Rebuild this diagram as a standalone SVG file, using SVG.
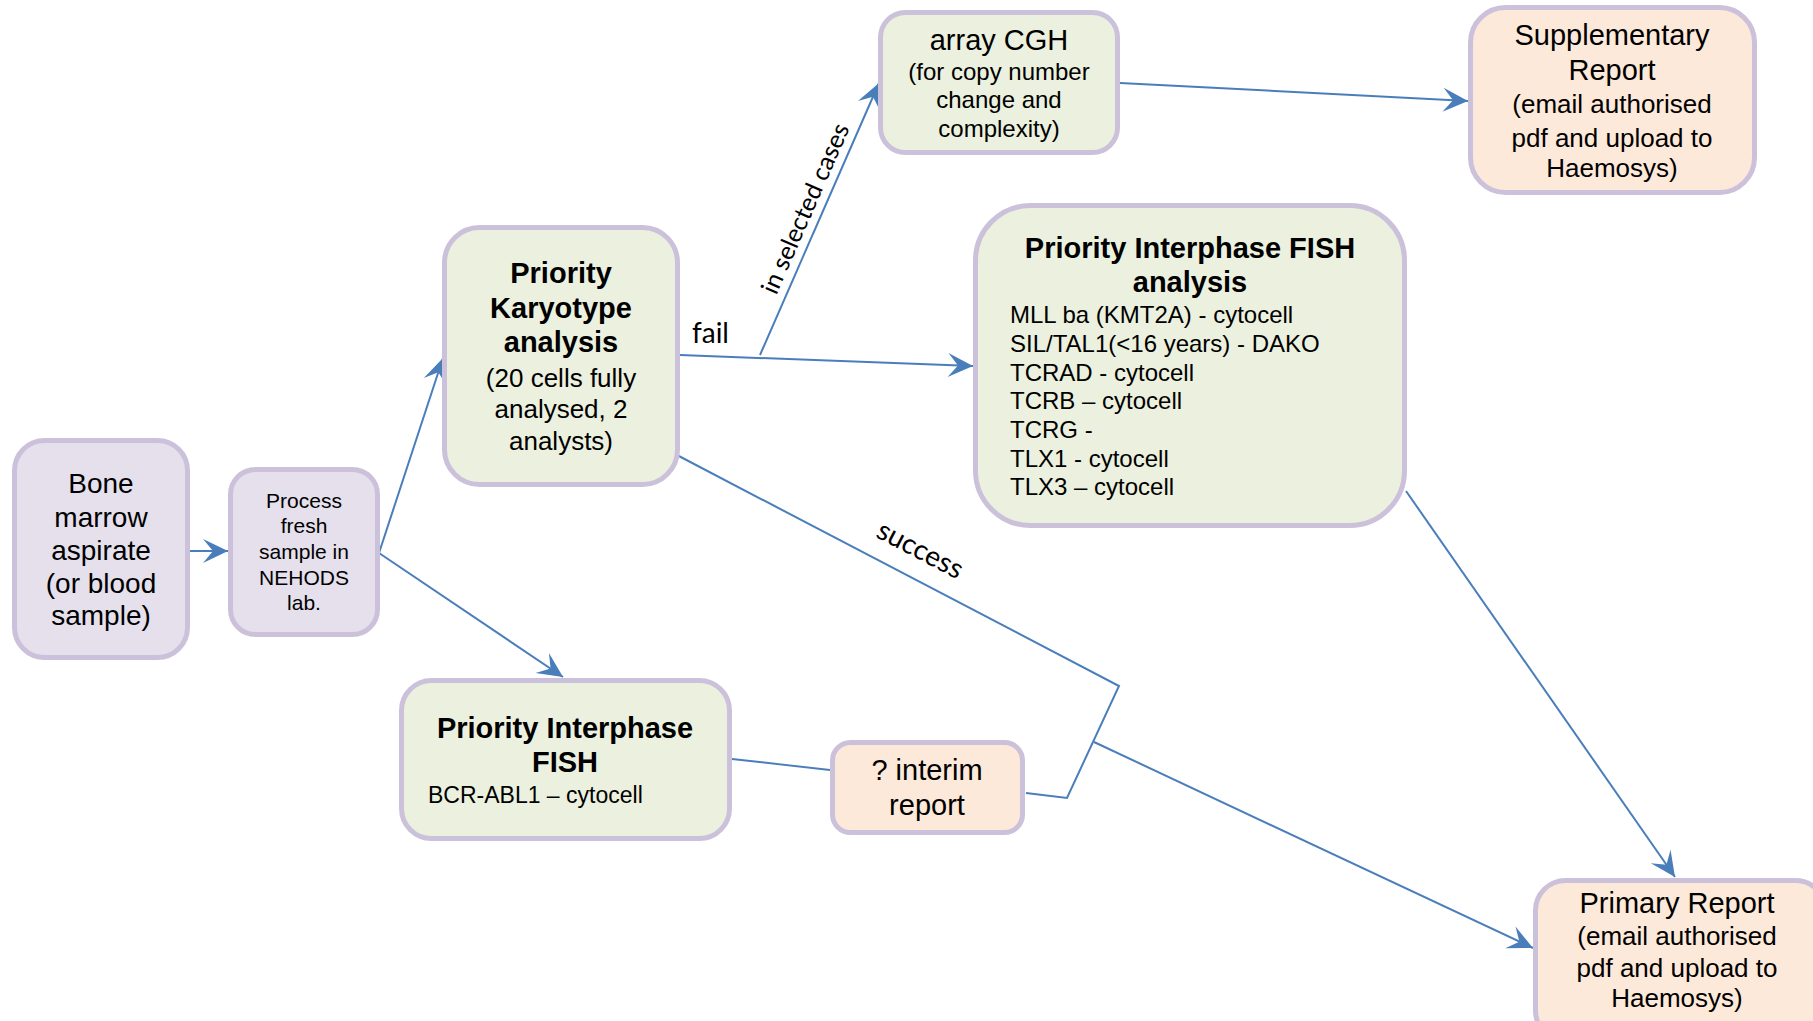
<svg xmlns="http://www.w3.org/2000/svg" width="1813" height="1021" viewBox="0 0 1813 1021">
<defs>
<style>
.box{stroke:#ccc1da;stroke-width:5}
.pur{fill:#e5e0ec}
.grn{fill:#ebf1de}
.pch{fill:#fde9d9}
text{font-family:"Liberation Sans",Arial,sans-serif;fill:#000}
.c{text-anchor:middle}
.b{font-weight:bold}
.lbl{font-family:Lato,"Liberation Sans",sans-serif}
.ln{fill:none;stroke:#4a7ebb;stroke-width:2}
</style>
<marker id="arr" viewBox="-26 -13 27 26" markerWidth="27" markerHeight="26" refX="0" refY="0" orient="auto" markerUnits="userSpaceOnUse">
<path d="M0,0 L-25,-12 L-15,0 L-25,12 Z" fill="#4a7ebb"/>
</marker>
</defs>
<rect width="1813" height="1021" fill="#fff"/>

<g id="connectors">
<line class="ln" x1="190" y1="551" x2="228" y2="551" marker-end="url(#arr)"/>
<line class="ln" x1="379" y1="553" x2="443" y2="358" marker-end="url(#arr)"/>
<line class="ln" x1="379" y1="553" x2="563" y2="677" marker-end="url(#arr)"/>
<line class="ln" x1="680" y1="355" x2="973" y2="366" marker-end="url(#arr)"/>
<line class="ln" x1="760" y1="355" x2="879" y2="83" marker-end="url(#arr)"/>
<line class="ln" x1="1120" y1="83" x2="1468" y2="101" marker-end="url(#arr)"/>
<line class="ln" x1="1406" y1="491" x2="1675" y2="877" marker-end="url(#arr)"/>
<polyline class="ln" points="675,454 1119,686 1067,798 1026,793"/>
<line class="ln" x1="732" y1="759" x2="830" y2="770"/>
<line class="ln" x1="1094" y1="742" x2="1533" y2="948" marker-end="url(#arr)"/>
<text class="lbl" x="692" y="343" font-size="28">fail</text>
<text class="lbl c" x="813" y="212" font-size="25" transform="rotate(-66.3 813 212)">in selected cases</text>
<text class="lbl c" x="916" y="558" font-size="28" transform="rotate(27.7 916 558)">success</text>
</g>

<g id="bone">
<rect class="box pur" x="14.5" y="440.5" width="173" height="217" rx="30"/>
<text class="c" font-size="28"><tspan x="101" y="493">Bone</tspan><tspan x="101" y="527">marrow</tspan><tspan x="101" y="560">aspirate</tspan><tspan x="101" y="593">(or blood</tspan><tspan x="101" y="625">sample)</tspan></text>
</g>

<g id="process">
<rect class="box pur" x="230.5" y="469.5" width="147" height="165" rx="25"/>
<text class="c" font-size="21"><tspan x="304" y="508">Process</tspan><tspan x="304" y="533">fresh</tspan><tspan x="304" y="559">sample in</tspan><tspan x="304" y="585">NEHODS</tspan><tspan x="304" y="610">lab.</tspan></text>
</g>

<g id="karyotype">
<rect class="box grn" x="444.5" y="227.5" width="233" height="257" rx="35"/>
<text class="c b" font-size="29"><tspan x="561" y="283">Priority</tspan><tspan x="561" y="318">Karyotype</tspan><tspan x="561" y="352">analysis</tspan></text>
<text class="c" font-size="26"><tspan x="561" y="387">(20 cells fully</tspan><tspan x="561" y="418">analysed, 2</tspan><tspan x="561" y="450">analysts)</tspan></text>
</g>

<g id="acgh">
<rect class="box grn" x="880.5" y="12.5" width="237" height="140" rx="25"/>
<text class="c" font-size="29" x="999" y="50">array CGH</text>
<text class="c" font-size="24"><tspan x="999" y="80">(for copy number</tspan><tspan x="999" y="108">change and</tspan><tspan x="999" y="137">complexity)</tspan></text>
</g>

<g id="supp">
<rect class="box pch" x="1470.5" y="7.5" width="284" height="185" rx="35"/>
<text class="c" font-size="29"><tspan x="1612" y="45">Supplementary</tspan><tspan x="1612" y="80">Report</tspan></text>
<text class="c" font-size="26"><tspan x="1612" y="113">(email authorised</tspan><tspan x="1612" y="147">pdf and upload to</tspan><tspan x="1612" y="177">Haemosys)</tspan></text>
</g>

<g id="fishtop">
<rect class="box grn" x="975.5" y="205.5" width="429" height="320" rx="55"/>
<text class="c b" font-size="29"><tspan x="1190" y="258">Priority Interphase FISH</tspan><tspan x="1190" y="292">analysis</tspan></text>
<text font-size="24"><tspan x="1010" y="323">MLL ba (KMT2A) - cytocell</tspan><tspan x="1010" y="352">SIL/TAL1(&lt;16 years) - DAKO</tspan><tspan x="1010" y="381">TCRAD - cytocell</tspan><tspan x="1010" y="409">TCRB – cytocell</tspan><tspan x="1010" y="438">TCRG -</tspan><tspan x="1010" y="467">TLX1 - cytocell</tspan><tspan x="1010" y="495">TLX3 – cytocell</tspan></text>
</g>

<g id="fishbottom">
<rect class="box grn" x="401.5" y="680.5" width="328" height="158" rx="30"/>
<text class="c b" font-size="29"><tspan x="565" y="738">Priority Interphase</tspan><tspan x="565" y="772">FISH</tspan></text>
<text font-size="23" x="428" y="803">BCR-ABL1 – cytocell</text>
</g>

<g id="interim">
<rect class="box pch" x="832.5" y="742.5" width="190" height="90" rx="18"/>
<text class="c" font-size="29"><tspan x="927" y="780">? interim</tspan><tspan x="927" y="815">report</tspan></text>
</g>

<g id="primary">
<rect class="box pch" x="1535.5" y="880.5" width="290" height="160" rx="30"/>
<text class="c" font-size="29" x="1677" y="913">Primary Report</text>
<text class="c" font-size="26"><tspan x="1677" y="945">(email authorised</tspan><tspan x="1677" y="977">pdf and upload to</tspan><tspan x="1677" y="1007">Haemosys)</tspan></text>
</g>
</svg>
